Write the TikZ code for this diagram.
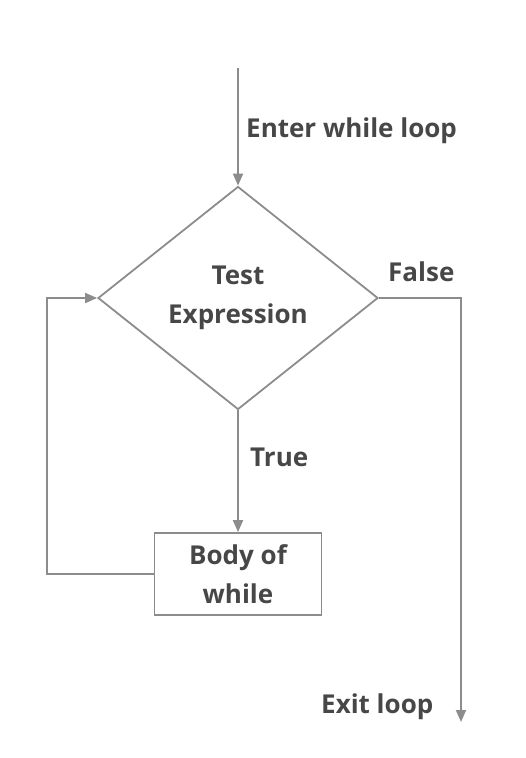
\documentclass[tikz,border=0pt]{standalone}
\usepackage{fontspec}
\setmainfont{Open Sans}
\usetikzlibrary{shapes, arrows.meta, positioning}
\definecolor{linegray}{HTML}{8C8C8C}
\definecolor{textgray}{HTML}{474747}

\begin{document}
\begin{tikzpicture}[
                x=1pt, y=-1pt,
                txt/.style={font=\bfseries\fontsize{26}{39}\selectfont, text=textgray},
                line/.style={draw=linegray, line width=1.8pt},
                arrow/.style={line, -{Triangle[length=12pt, width=10pt]}},
                decision/.style={diamond, line, txt, minimum width=280pt, minimum height=223pt, inner sep=0pt, align=center},
                box/.style={rectangle, line, txt, minimum width=167pt, minimum height=82pt, align=center},
                tag/.style={txt, anchor=west, inner sep=0pt}
            ]
                \useasboundingbox (0,0) rectangle (526,758);

                \coordinate (start) at (238,68);
                \node[decision] (test) at (238,298) {Test\\Expression};
                \node[box] (body) at (238,574) {Body of\\while};
                \coordinate (exit) at (461,722);
                \coordinate (loop) at (47,574);

                \node[tag] (enter) at (246,131) {Enter while loop};
                \node[tag] (false) at (388,272) {False};
                \node[tag] (true) at (250,457) {True};
                \node[tag] (exitlabel) at (321,707) {Exit loop};

                \draw[arrow] (start) -- (test.north);
                \draw[arrow] (test.south) -- (body.north);
                \draw[arrow] (test.east) -| (exit);
                \draw[arrow] (body.west) -- (loop) |- (test.west);
            \end{tikzpicture}
\end{document}
